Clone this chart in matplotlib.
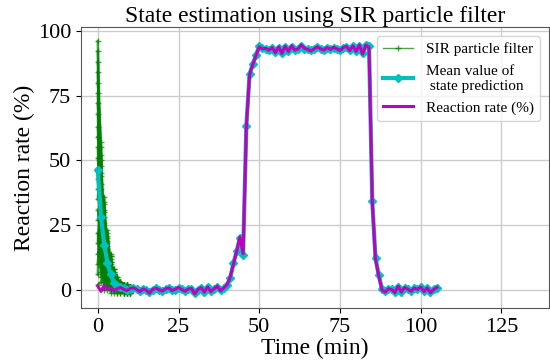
import numpy as np
import matplotlib
matplotlib.use("Agg")
import matplotlib.pyplot as plt

# time axis (min)
time = list(range(0, 106))

# true reaction rate (%)
reaction_rate = [
    1.5, -0.5, 1.8, 0.2, 0.8, -0.3, 0.5, 1.0, 0.3, -0.2,
    0.6, 0.9, 0.2, -0.6, 0.4, 0.0, -1.2, 0.3, 0.7, 0.1,
    -0.4, 0.5, 0.8, -0.2, 0.3, 1.0, 0.2, -0.5, 0.4, 0.6,
    -1.5, 0.2, 0.9, -0.8, 1.2, -0.6, 0.5, 1.5, -0.3, 0.8,
    2.0, 5.0, 10.0, 15.0, 20.5, 14.0, 63.0, 83.0, 87.0, 90.5,
    93.8, 93.0, 93.2, 92.5, 93.5, 91.5, 93.8, 91.2, 94.0, 92.0,
    94.2, 92.5, 93.0, 94.5, 93.2, 92.8, 92.2, 93.0, 93.8, 93.0,
    92.5, 93.5, 92.8, 93.6, 93.0, 92.4, 93.5, 94.0, 92.3, 94.2,
    92.0, 94.5, 91.0, 94.5, 93.5, 34.0, 12.0, 5.5, 0.0, -0.8,
    0.5, 0.2, -1.0, 1.5, -0.8, 1.0, 0.3, -0.5, 0.8, 0.2,
    1.2, -0.6, 0.8, -1.0, 0.2, 1.0,
]

# mean value of the state prediction
mean_pred = [
    46.4, 28.2, 17.2, 10.5, 6.0, 2.8, 1.5, 1.0, 0.6, 0.2,
    0.4, 0.7, 0.3, -0.4, 0.3, 0.1, -0.9, 0.2, 0.6, 0.2,
    -0.2, 0.4, 0.6, -0.1, 0.2, 0.8, 0.3, -0.3, 0.3, 0.5,
    -1.2, 0.1, 0.7, -0.6, 1.0, -0.4, 0.4, 1.2, -0.1, 0.6,
    1.8, 4.6, 10.3, 14.9, 20.0, 13.6, 63.3, 83.3, 87.2, 90.7,
    94.0, 93.2, 93.0, 92.7, 93.3, 91.8, 93.5, 91.5, 93.8, 92.2,
    93.9, 92.7, 93.1, 94.2, 93.1, 92.9, 92.4, 93.1, 93.6, 93.1,
    92.7, 93.3, 92.9, 93.4, 93.1, 92.6, 93.3, 93.8, 92.5, 94.0,
    92.2, 94.2, 91.3, 94.3, 94.0, 34.2, 12.2, 5.8, 0.3, -0.5,
    0.4, 0.3, -0.7, 1.2, -0.6, 0.8, 0.4, -0.3, 0.6, 0.3,
    1.0, -0.4, 0.6, -0.7, 0.3, 0.8,
]

# particle trajectories for the first minutes (rows = particles)
particle_time = list(range(0, 11))
particles = [
    [96, 22, 30, 5, 9, 1, 3, 0, 2, 1, 0],
    [92, 48, 8, 18, 2, 6, 0, 2, -1, 0, 1],
    [88, 9, 25, 11, 13, 3, 4, 1, 1, 2, -1],
    [84, 36, 14, 0, 6, 8, 1, 3, 0, -1, 1],
    [80, 57, 3, 21, 11, 2, 5, -1, 2, 1, 0],
    [76, 14, 34, 8, 1, 5, 2, 1, 0, 2, 1],
    [72, 41, 19, 15, 8, 0, 3, 2, 1, 0, -1],
    [68, 27, 6, 23, 4, 7, -1, 0, 2, 1, 1],
    [63, 5, 28, 3, 14, 4, 2, 3, -1, 0, 0],
    [59, 52, 11, 13, 0, 2, 4, 1, 1, -1, 1],
    [55, 19, 36, 9, 10, 6, 1, 0, 2, 1, 0],
    [51, 33, 1, 17, 5, -1, 3, 2, 0, 1, 1],
    [47, 45, 22, 2, 12, 3, 0, 1, 1, 2, -1],
    [43, 11, 16, 20, 3, 8, 2, -1, 0, 0, 1],
    [39, 29, 31, 6, 7, 1, 5, 2, 1, 1, 0],
    [35, 55, 9, 12, -1, 5, 1, 3, 2, -1, 1],
    [31, 24, 20, 1, 9, 2, 3, 0, -1, 1, 0],
    [27, 39, 4, 16, 6, 7, 0, 1, 1, 2, 1],
    [22, 7, 26, 7, 13, 0, 4, 2, 0, 0, -1],
    [18, 44, 13, 19, 2, 4, -1, 1, 2, 1, 1],
    [14, 17, 0, 10, 8, 6, 2, 3, 0, -1, 0],
    [10, 31, 33, 4, 11, 1, 3, 0, 1, 1, 1],
    [6, 50, 17, 14, 0, 3, 1, 2, -1, 2, 0],
    [2, 3, 10, 22, 5, 5, 4, 1, 1, 0, 1],
]

plt.rcParams["font.family"] = ["Liberation Serif", "DejaVu Serif"]

fig = plt.figure(figsize=(5.5, 3.61), dpi=100)
ax = fig.add_axes([0.147, 0.147, 0.851, 0.778])

# particles
for i, p in enumerate(particles):
    ax.plot(particle_time, p, "g+-", lw=1.8, ms=5, alpha=0.7,
            label="SIR particle filter" if i == 0 else None)

ax.plot(time, mean_pred, "c-D", lw=3, ms=4, label="Mean value of\n state prediction")
ax.plot(time, reaction_rate, "m-", lw=2.2, label="Reaction rate (%)")

ax.set_xlim(-5.25, 139.7)
ax.set_ylim(-6.9, 101.4)
ax.set_xticks([0, 25, 50, 75, 100, 125])
ax.set_yticks([0, 25, 50, 75, 100])
ax.tick_params(labelsize=16)
ax.grid(True, color="#cccccc", lw=1)
for s in ax.spines.values():
    s.set_color("#555555")

ax.set_title("State estimation using SIR particle filter", fontsize=17, pad=4)
ax.set_xlabel("Time (min)", fontsize=17, labelpad=1)
ax.set_ylabel("Reaction rate (%)", fontsize=17, labelpad=2)
leg = ax.legend(loc="upper right", fontsize=11, handlelength=2.0, handletextpad=0.8,
                labelspacing=0.55, borderaxespad=0.6)
leg.get_lines()[0].set_linewidth(1.0)

fig.savefig("out.png", dpi=100)
